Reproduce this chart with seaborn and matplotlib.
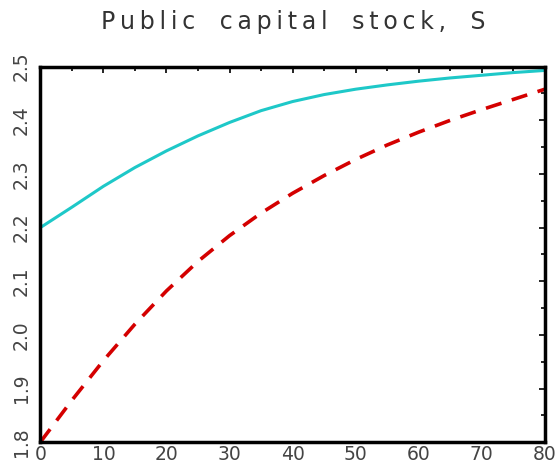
import pandas as pd
import seaborn as sns
import matplotlib.pyplot as plt
from matplotlib.ticker import MultipleLocator

# values
t = [0, 5, 10, 15, 20, 25, 30, 35, 40, 45, 50, 55, 60, 65, 70, 75, 80]
s_solid = [2.200, 2.238, 2.277, 2.312, 2.343, 2.371, 2.396, 2.418, 2.435,
           2.448, 2.458, 2.466, 2.473, 2.479, 2.484, 2.489, 2.493]
s_dashed = [1.800, 1.878, 1.952, 2.020, 2.082, 2.137, 2.185, 2.227, 2.264,
            2.297, 2.327, 2.354, 2.378, 2.400, 2.420, 2.439, 2.458]
title = "Public capital stock, S"

df = pd.DataFrame({"t": t, "solid": s_solid, "dashed": s_dashed})

sns.set_style("white")
plt.rcParams["font.family"] = ["DejaVu Sans"]

fig = plt.figure(figsize=(5.6, 4.63), dpi=100)
ax = fig.add_axes([0.072, 0.045, 0.901, 0.811])

sns.lineplot(data=df, x="t", y="solid", ax=ax, color="#1ec8c8", linewidth=2.2)
sns.lineplot(data=df, x="t", y="dashed", ax=ax, color="#d40000", linewidth=2.6,
             linestyle=(0, (4.5, 3)))

ax.set_xlim(0, 80)
ax.set_ylim(1.8, 2.5)
ax.set_xlabel("")
ax.set_ylabel("")
ax.xaxis.set_major_locator(MultipleLocator(10))
ax.xaxis.set_minor_locator(MultipleLocator(5))
ax.yaxis.set_major_locator(MultipleLocator(0.1))
ax.yaxis.set_minor_locator(MultipleLocator(0.05))
ax.yaxis.set_major_formatter(plt.FuncFormatter(lambda v, p: f"{v:.1f}"))
ax.tick_params(which="both", direction="in", top=True, right=True,
               color="black", width=1.2)
ax.tick_params(which="major", length=4, labelsize=13.5, labelcolor="#444444")
ax.tick_params(axis="x", which="major", pad=2)
ax.tick_params(axis="y", which="major", pad=7)
ax.tick_params(which="minor", length=3)
for lab in ax.get_yticklabels():
    lab.set_rotation(90)
    lab.set_va("center")
for sp in ax.spines.values():
    sp.set_linewidth(2.5)
    sp.set_color("black")

# wide letter spacing like the original title
spaced = "\u2009".join(title).replace("\u2009 \u2009", "\u2009  \u2009")
fig.suptitle(spaced, x=0.523, y=0.978, fontsize=17, color="#333333")

plt.savefig("out.png", dpi=100)
